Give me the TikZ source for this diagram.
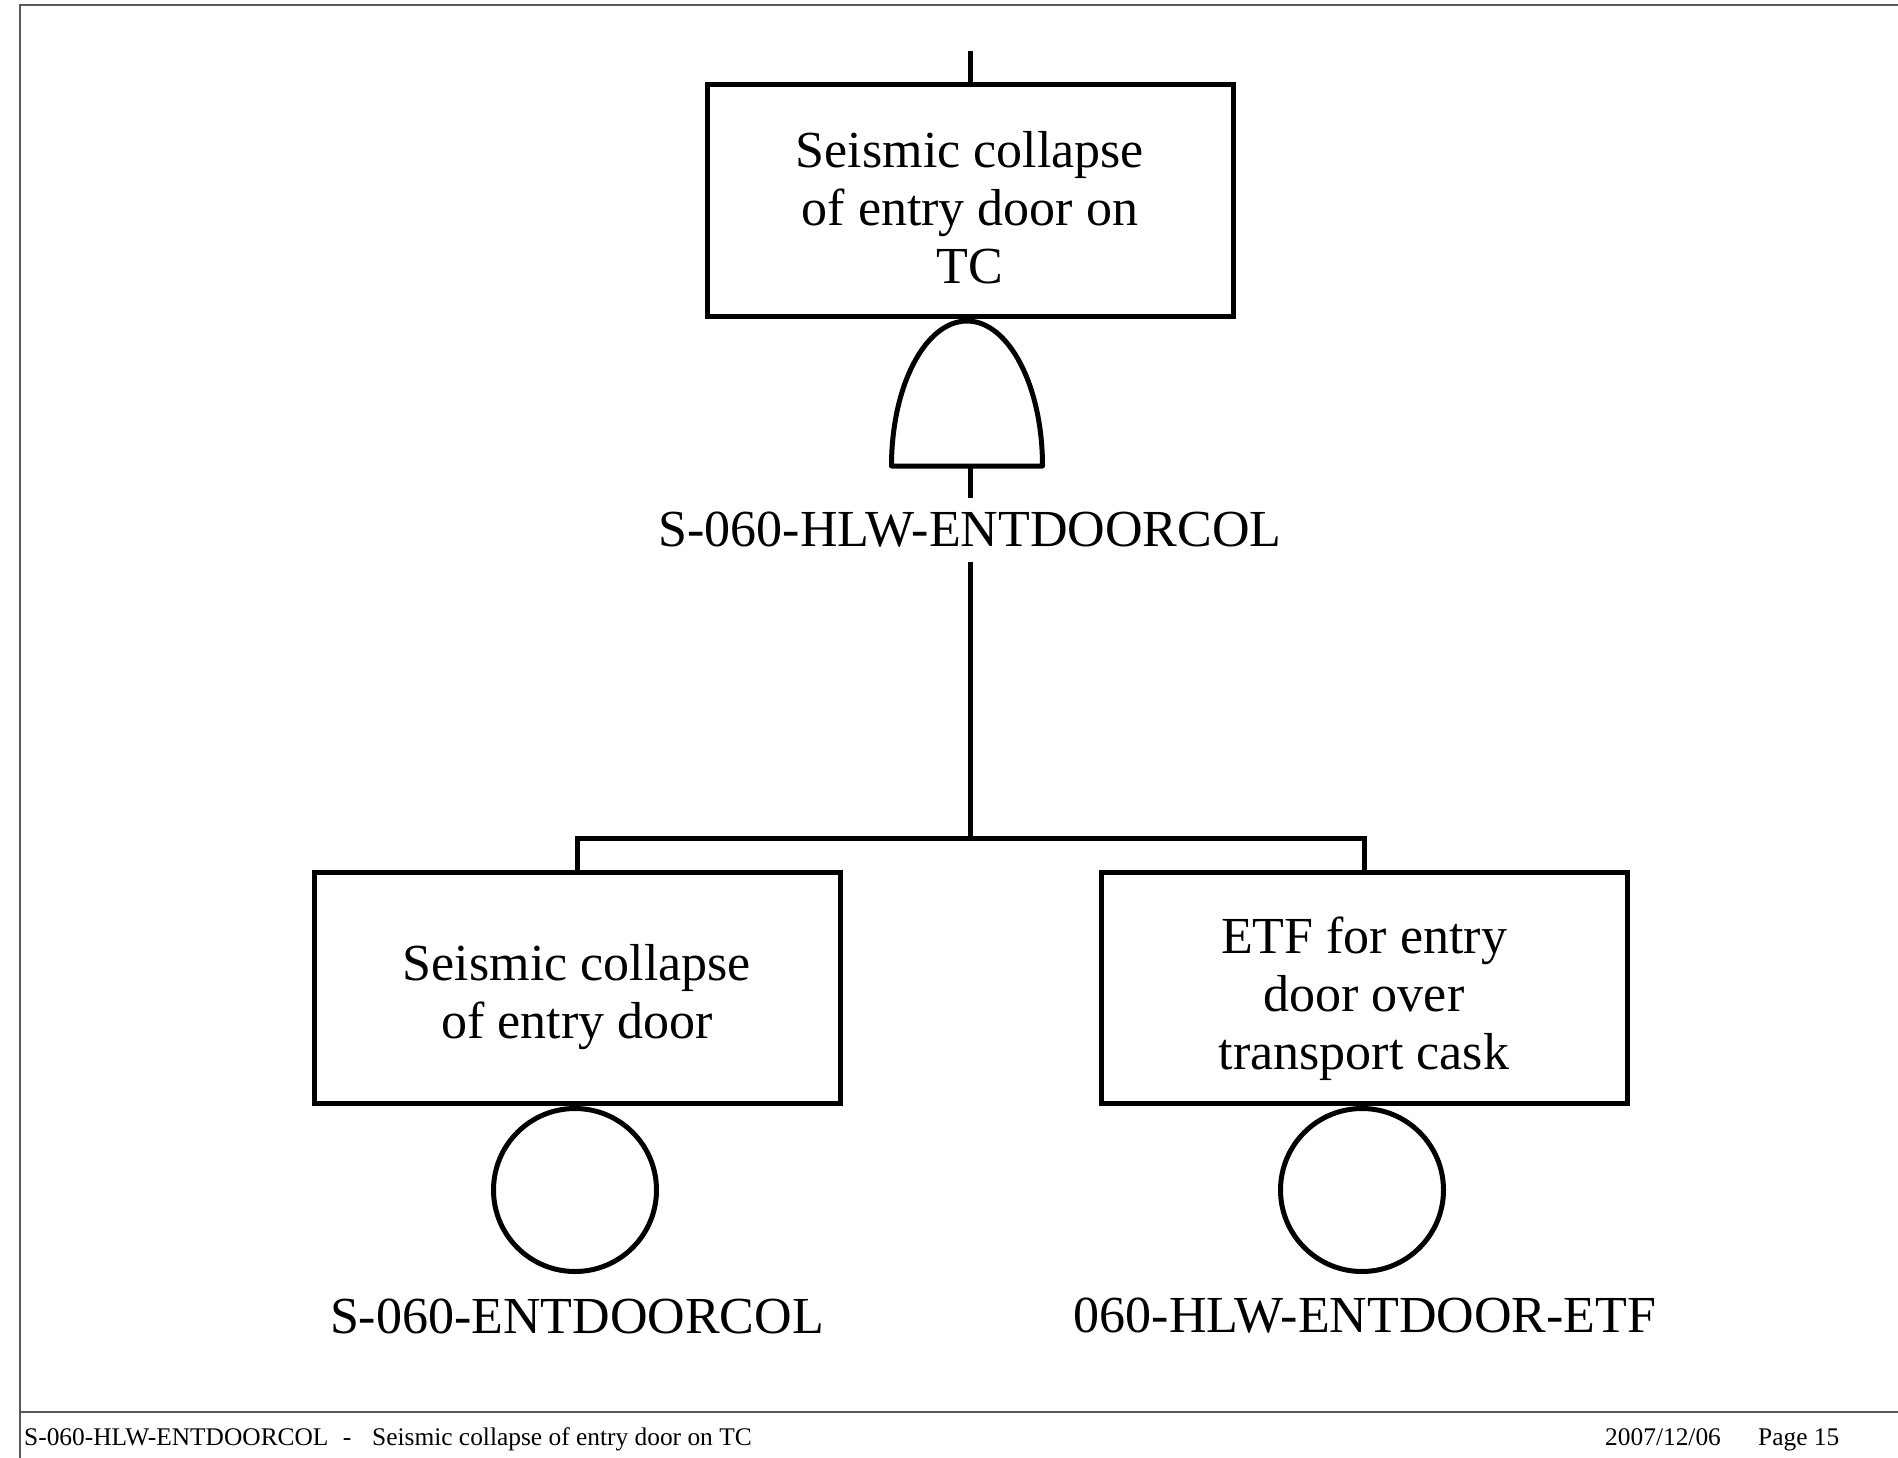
\documentclass[tikz,border=0pt]{standalone}
\usepackage{fontspec}
\setmainfont{Liberation Serif}
\begin{document}
\begin{tikzpicture}[x=1pt,y=-1pt,
  evbox/.style={draw, line width=5pt, minimum width=526pt, minimum height=231pt, inner sep=0pt},
  evtext/.style={align=center, inner sep=0pt, font=\fontsize{52}{58}\selectfont},
  basicev/.style={draw, circle, line width=5pt, minimum size=163pt, inner sep=0pt},
  lbl/.style={font=\fontsize{52}{58}\selectfont, inner xsep=0pt, inner ysep=14pt},
  conn/.style={line width=5pt},
  framestyle/.style={line width=2pt, draw=black!65},
  foot/.style={font=\fontsize{25.4}{29}\selectfont, inner sep=0pt}
]
\path[use as bounding box, fill=white] (0,0) rectangle (1898,1458);

% page frame
\draw[framestyle] (1898,5) -- (20,5) -- (20,1458);
\draw[framestyle] (20,1412) -- (1898,1412);

% top event
\node[evbox] (top) at (970,200.5) {};
\node[evtext] (toptxt) at (970,207.5) {Seismic collapse\\of entry door on\\TC};
\coordinate (tin) at (970,51);
\draw[conn] (tin) -- (top.north);

% AND gate
\coordinate (gtop) at (970,321);
\coordinate (gbot) at (970,466);
\draw[conn, line join=round] (891.5,466) arc[start angle=180, end angle=360, x radius=75.5, y radius=145] -- cycle;
\draw[conn] (gtop) -- (top.south);

% gate label
\node[lbl] (glab) at (970,530) {S-060-HLW-ENTDOORCOL};
\draw[conn] (gbot) -- (glab.north);

% children
\node[evbox] (left) at (577,987.5) {};
\node[evtext] (lefttxt) at (577,997.5) {Seismic collapse\\of entry door};
\node[evbox] (right) at (1364,987.5) {};
\node[evtext] (righttxt) at (1364,998.5) {ETF for entry\\door over\\transport cask};

\coordinate (j) at (970,838);
\draw[conn] (glab.south) -- (j);
\draw[conn] (left.north) -- (left.north |- j) -- (right.north |- j) -- (right.north);

% basic events
\node[basicev] (lc) at (575,1190) {};
\node[basicev] (rc) at (1362,1190) {};
\draw[conn] (lc.north) -- (left.south);
\draw[conn] (rc.north) -- (right.south);

\node[lbl, inner ysep=0pt] (llab) at (577,1316) {S-060-ENTDOORCOL};
\node[lbl, inner ysep=0pt] (rlab) at (1365,1316) {060-HLW-ENTDOOR-ETF};

% footer
\node[foot, anchor=base west] (f1) at (24,1445) {S-060-HLW-ENTDOORCOL};
\node[foot, anchor=base] (f2) at (347,1445) {-};
\node[foot, anchor=base west] (f3) at (372,1445) {Seismic collapse of entry door on TC};
\node[foot, anchor=base west] (f4) at (1605,1445) {2007/12/06};
\node[foot, anchor=base west] (f5) at (1758,1445) {Page 15};
\end{tikzpicture}
\end{document}
